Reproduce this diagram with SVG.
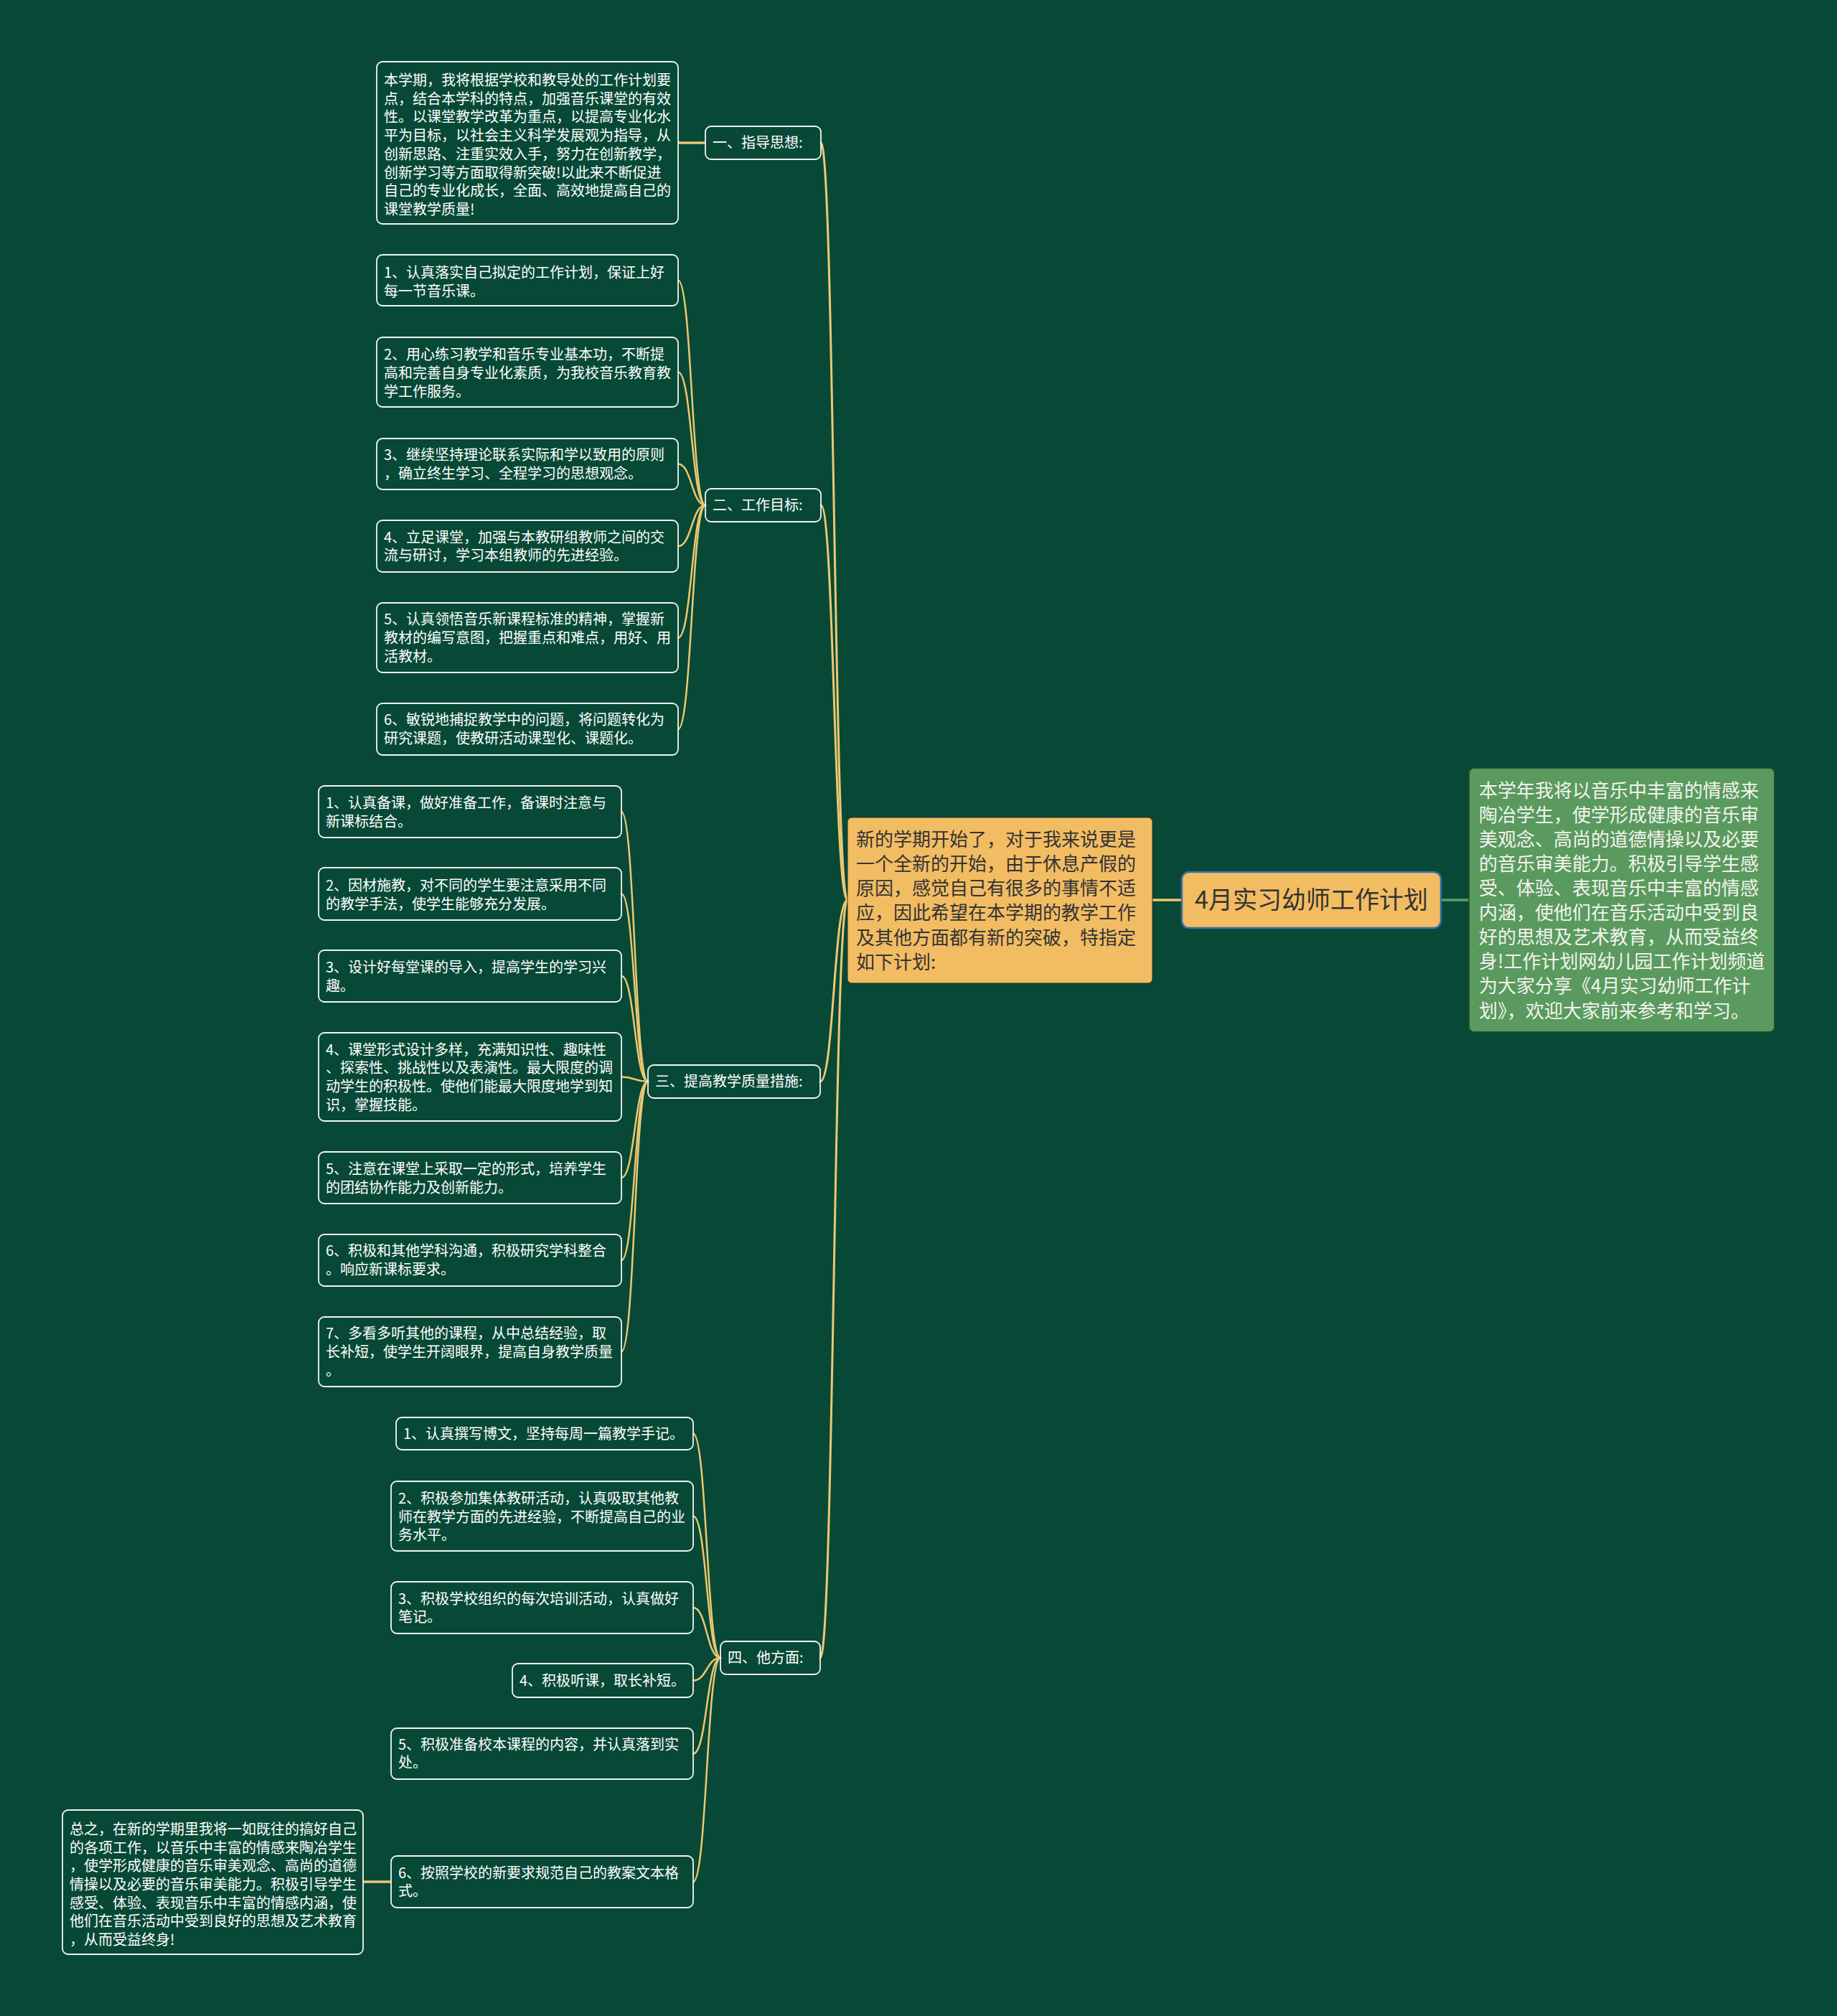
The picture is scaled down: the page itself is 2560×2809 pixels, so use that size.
<svg xmlns="http://www.w3.org/2000/svg" width="2560" height="2809" viewBox="0 0 2560 2809">
<style>
.bg{fill:#074936}
.box{fill:none;stroke:#F4F4F0;stroke-width:1.8}
.t{font-family:"Noto Sans CJK SC","Noto Sans",sans-serif;font-size:20px;fill:#FFFFFF;dominant-baseline:central;transform:translateY(-2px)}
.tc{font-family:"Noto Sans CJK SC","Noto Sans",sans-serif;font-size:26px;fill:#333333;dominant-baseline:central;transform:translateY(-5px)}
.tg{font-family:"Noto Sans CJK SC","Noto Sans",sans-serif;font-size:26px;fill:#F4F4EE;dominant-baseline:central;transform:translateY(-4px)}
.tr{font-family:"Noto Sans CJK SC","Noto Sans",sans-serif;font-size:34px;fill:#333333;dominant-baseline:central;text-anchor:middle;transform:translateY(-3px)}
.c{fill:none;stroke:#EEC772;stroke-width:2.5;stroke-linecap:round}
.ct{fill:none;stroke:#EEC772;stroke-width:3;stroke-linecap:round}
.cs{fill:none;stroke:#EEC772;stroke-width:3.5}
</style>
<rect class="bg" x="0" y="0" width="2560" height="2809"/>

<g id="connectors">
  <line class="cs" x1="1606" y1="1254" x2="1647" y2="1254" stroke-width="4"/>
  <line x1="2008" y1="1254" x2="2047" y2="1254" stroke="#4F9A62" stroke-width="4"/>
  <path class="ct" d="M1144,199 C1162.5,199 1162.5,1254 1181,1254"/>
  <path class="ct" d="M1144,704 C1162.5,704 1162.5,1254 1181,1254"/>
  <path class="ct" d="M1143,1507 C1162,1507 1162,1254 1181,1254"/>
  <path class="ct" d="M1143,2310 C1162,2310 1162,1254 1181,1254"/>
  <line class="cs" x1="945" y1="199" x2="983" y2="199"/>
  <path class="c" d="M945,390.5 C964,390.5 964,704 983,704"/>
  <path class="c" d="M945,518.5 C964,518.5 964,704 983,704"/>
  <path class="c" d="M945,646.5 C964,646.5 964,704 983,704"/>
  <path class="c" d="M945,761 C964,761 964,704 983,704"/>
  <path class="c" d="M945,888.5 C964,888.5 964,704 983,704"/>
  <path class="c" d="M945,1016 C964,1016 964,704 983,704"/>
  <path class="c" d="M866,1131 C884.5,1131 884.5,1507 903,1507"/>
  <path class="c" d="M866,1245.5 C884.5,1245.5 884.5,1507 903,1507"/>
  <path class="c" d="M866,1360 C884.5,1360 884.5,1507 903,1507"/>
  <path class="c" d="M866,1500.5 C884.5,1500.5 884.5,1507 903,1507"/>
  <path class="c" d="M866,1641 C884.5,1641 884.5,1507 903,1507"/>
  <path class="c" d="M866,1756 C884.5,1756 884.5,1507 903,1507"/>
  <path class="c" d="M866,1883.5 C884.5,1883.5 884.5,1507 903,1507"/>
  <path class="c" d="M966,1997.5 C985,1997.5 985,2310 1004,2310"/>
  <path class="c" d="M966,2112.5 C985,2112.5 985,2310 1004,2310"/>
  <path class="c" d="M966,2240 C985,2240 985,2310 1004,2310"/>
  <path class="c" d="M966,2341.5 C985,2341.5 985,2310 1004,2310"/>
  <path class="c" d="M966,2443.5 C985,2443.5 985,2310 1004,2310"/>
  <path class="c" d="M966,2622 C985,2622 985,2310 1004,2310"/>
  <line class="cs" x1="506" y1="2622" x2="545" y2="2622"/>
</g>

<g id="root">
  <rect x="1647" y="1215" width="361" height="78" rx="10" fill="#F2BC63" stroke="#3D6EA5" stroke-width="2.5"/>
  <text class="tr" x="1827.5" y="1254">4月实习幼师工作计划</text>
</g>

<g id="intro">
  <rect x="1181" y="1139" width="425" height="231" rx="6" fill="#F2BC63" stroke="#2a2a1f" stroke-opacity="0.6" stroke-width="1.5"/>
  <text class="tc">
    <tspan x="1193" y="1172">新的学期开始了，对于我来说更是</tspan>
    <tspan x="1193" y="1206">一个全新的开始，由于休息产假的</tspan>
    <tspan x="1193" y="1240">原因，感觉自己有很多的事情不适</tspan>
    <tspan x="1193" y="1274">应，因此希望在本学期的教学工作</tspan>
    <tspan x="1193" y="1309">及其他方面都有新的突破，特指定</tspan>
    <tspan x="1193" y="1343">如下计划:</tspan>
  </text>
</g>

<g id="summary">
  <rect x="2047" y="1070" width="426" height="368" rx="7" fill="#5A9A5F" stroke="#1F4A30" stroke-width="1.8"/>
  <text class="tg">
    <tspan x="2061" y="1103">本学年我将以音乐中丰富的情感来</tspan>
    <tspan x="2061" y="1137">陶冶学生，使学形成健康的音乐审</tspan>
    <tspan x="2061" y="1171">美观念、高尚的道德情操以及必要</tspan>
    <tspan x="2061" y="1205">的音乐审美能力。积极引导学生感</tspan>
    <tspan x="2061" y="1239">受、体验、表现音乐中丰富的情感</tspan>
    <tspan x="2061" y="1273">内涵，使他们在音乐活动中受到良</tspan>
    <tspan x="2061" y="1307">好的思想及艺术教育，从而受益终</tspan>
    <tspan x="2061" y="1341">身!工作计划网幼儿园工作计划频道</tspan>
    <tspan x="2061" y="1375">为大家分享《4月实习幼师工作计</tspan>
    <tspan x="2061" y="1410">划》，欢迎大家前来参考和学习。</tspan>
  </text>
</g>

<g id="s1-label">
  <rect class="box" x="983" y="176" width="161" height="46" rx="8"/>
  <text class="t" x="993" y="199">一、指导思想:</text>
</g>
<g id="s1-text">
  <rect class="box" x="525" y="86" width="420" height="226" rx="8"/>
  <text class="t">
    <tspan x="535" y="112">本学期，我将根据学校和教导处的工作计划要</tspan>
    <tspan x="535" y="137.7">点，结合本学科的特点，加强音乐课堂的有效</tspan>
    <tspan x="535" y="163.4">性。以课堂教学改革为重点，以提高专业化水</tspan>
    <tspan x="535" y="189.1">平为目标，以社会主义科学发展观为指导，从</tspan>
    <tspan x="535" y="214.8">创新思路、注重实效入手，努力在创新教学，</tspan>
    <tspan x="535" y="240.5">创新学习等方面取得新突破!以此来不断促进</tspan>
    <tspan x="535" y="266.2">自己的专业化成长，全面、高效地提高自己的</tspan>
    <tspan x="535" y="291.9">课堂教学质量!</tspan>
  </text>
</g>

<g id="s2-label">
  <rect class="box" x="983" y="681" width="161" height="46" rx="8"/>
  <text class="t" x="993" y="704">二、工作目标:</text>
</g>
<g id="s2-1">
  <rect class="box" x="525" y="355" width="420" height="71" rx="8"/>
  <text class="t"><tspan x="535" y="380">1、认真落实自己拟定的工作计划，保证上好</tspan><tspan x="535" y="406">每一节音乐课。</tspan></text>
</g>
<g id="s2-2">
  <rect class="box" x="525" y="470" width="420" height="97" rx="8"/>
  <text class="t"><tspan x="535" y="494">2、用心练习教学和音乐专业基本功，不断提</tspan><tspan x="535" y="520">高和完善自身专业化素质，为我校音乐教育教</tspan><tspan x="535" y="546">学工作服务。</tspan></text>
</g>
<g id="s2-3">
  <rect class="box" x="525" y="611" width="420" height="71" rx="8"/>
  <text class="t"><tspan x="535" y="634">3、继续坚持理论联系实际和学以致用的原则</tspan><tspan x="535" y="660">，确立终生学习、全程学习的思想观念。</tspan></text>
</g>
<g id="s2-4">
  <rect class="box" x="525" y="725" width="420" height="72" rx="8"/>
  <text class="t"><tspan x="535" y="749">4、立足课堂，加强与本教研组教师之间的交</tspan><tspan x="535" y="774">流与研讨，学习本组教师的先进经验。</tspan></text>
</g>
<g id="s2-5">
  <rect class="box" x="525" y="840" width="420" height="97" rx="8"/>
  <text class="t"><tspan x="535" y="863">5、认真领悟音乐新课程标准的精神，掌握新</tspan><tspan x="535" y="889">教材的编写意图，把握重点和难点，用好、用</tspan><tspan x="535" y="915">活教材。</tspan></text>
</g>
<g id="s2-6">
  <rect class="box" x="525" y="980" width="420" height="72" rx="8"/>
  <text class="t"><tspan x="535" y="1003">6、敏锐地捕捉教学中的问题，将问题转化为</tspan><tspan x="535" y="1029">研究课题，使教研活动课型化、课题化。</tspan></text>
</g>

<g id="s3-label">
  <rect class="box" x="903" y="1484" width="240" height="46" rx="8"/>
  <text class="t" x="913" y="1507">三、提高教学质量措施:</text>
</g>
<g id="s3-1">
  <rect class="box" x="444" y="1095" width="422" height="72" rx="8"/>
  <text class="t"><tspan x="454" y="1119">1、认真备课，做好准备工作，备课时注意与</tspan><tspan x="454" y="1145">新课标结合。</tspan></text>
</g>
<g id="s3-2">
  <rect class="box" x="444" y="1209" width="422" height="73" rx="8"/>
  <text class="t"><tspan x="454" y="1234">2、因材施教，对不同的学生要注意采用不同</tspan><tspan x="454" y="1260">的教学手法，使学生能够充分发展。</tspan></text>
</g>
<g id="s3-3">
  <rect class="box" x="444" y="1324" width="422" height="72" rx="8"/>
  <text class="t"><tspan x="454" y="1348">3、设计好每堂课的导入，提高学生的学习兴</tspan><tspan x="454" y="1374">趣。</tspan></text>
</g>
<g id="s3-4">
  <rect class="box" x="444" y="1439" width="422" height="123" rx="8"/>
  <text class="t"><tspan x="454" y="1463">4、课堂形式设计多样，充满知识性、趣味性</tspan><tspan x="454" y="1488">、探索性、挑战性以及表演性。最大限度的调</tspan><tspan x="454" y="1514">动学生的积极性。使他们能最大限度地学到知</tspan><tspan x="454" y="1540">识，掌握技能。</tspan></text>
</g>
<g id="s3-5">
  <rect class="box" x="444" y="1605" width="422" height="72" rx="8"/>
  <text class="t"><tspan x="454" y="1629">5、注意在课堂上采取一定的形式，培养学生</tspan><tspan x="454" y="1655">的团结协作能力及创新能力。</tspan></text>
</g>
<g id="s3-6">
  <rect class="box" x="444" y="1720" width="422" height="72" rx="8"/>
  <text class="t"><tspan x="454" y="1743">6、积极和其他学科沟通，积极研究学科整合</tspan><tspan x="454" y="1769">。响应新课标要求。</tspan></text>
</g>
<g id="s3-7">
  <rect class="box" x="444" y="1835" width="422" height="97" rx="8"/>
  <text class="t"><tspan x="454" y="1858">7、多看多听其他的课程，从中总结经验，取</tspan><tspan x="454" y="1884">长补短，使学生开阔眼界，提高自身教学质量</tspan><tspan x="454" y="1910">。</tspan></text>
</g>

<g id="s4-label">
  <rect class="box" x="1004" y="2287" width="139" height="46" rx="8"/>
  <text class="t" x="1014" y="2310">四、他方面:</text>
</g>
<g id="s4-1">
  <rect class="box" x="552" y="1975" width="414" height="45" rx="8"/>
  <text class="t" x="562" y="1998">1、认真撰写博文，坚持每周一篇教学手记。</text>
</g>
<g id="s4-2">
  <rect class="box" x="545" y="2064" width="421" height="97" rx="8"/>
  <text class="t"><tspan x="555" y="2088">2、积极参加集体教研活动，认真吸取其他教</tspan><tspan x="555" y="2114">师在教学方面的先进经验，不断提高自己的业</tspan><tspan x="555" y="2139">务水平。</tspan></text>
</g>
<g id="s4-3">
  <rect class="box" x="545" y="2204" width="421" height="72" rx="8"/>
  <text class="t"><tspan x="555" y="2228">3、积极学校组织的每次培训活动，认真做好</tspan><tspan x="555" y="2253">笔记。</tspan></text>
</g>
<g id="s4-4">
  <rect class="box" x="714" y="2318" width="252" height="47" rx="8"/>
  <text class="t" x="724" y="2342">4、积极听课，取长补短。</text>
</g>
<g id="s4-5">
  <rect class="box" x="545" y="2408" width="421" height="71" rx="8"/>
  <text class="t"><tspan x="555" y="2431">5、积极准备校本课程的内容，并认真落到实</tspan><tspan x="555" y="2456">处。</tspan></text>
</g>
<g id="s4-6">
  <rect class="box" x="545" y="2586" width="421" height="72" rx="8"/>
  <text class="t"><tspan x="555" y="2610">6、按照学校的新要求规范自己的教案文本格</tspan><tspan x="555" y="2635">式。</tspan></text>
</g>
<g id="s4-6-note">
  <rect class="box" x="87" y="2522" width="419" height="201" rx="8"/>
  <text class="t">
    <tspan x="97" y="2549">总之，在新的学期里我将一如既往的搞好自己</tspan>
    <tspan x="97" y="2575">的各项工作，以音乐中丰富的情感来陶冶学生</tspan>
    <tspan x="97" y="2600">，使学形成健康的音乐审美观念、高尚的道德</tspan>
    <tspan x="97" y="2626">情操以及必要的音乐审美能力。积极引导学生</tspan>
    <tspan x="97" y="2652">感受、体验、表现音乐中丰富的情感内涵，使</tspan>
    <tspan x="97" y="2677">他们在音乐活动中受到良好的思想及艺术教育</tspan>
    <tspan x="97" y="2703">，从而受益终身!</tspan>
  </text>
</g>
</svg>
